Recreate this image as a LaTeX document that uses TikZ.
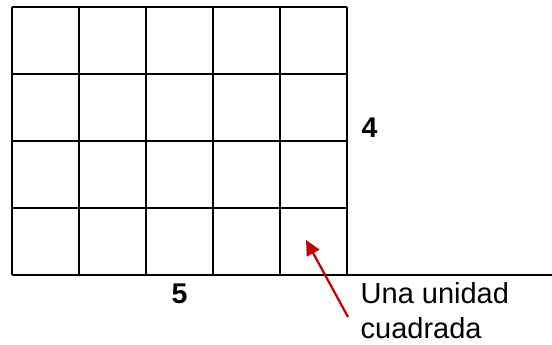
\documentclass[tikz,border=0pt]{standalone}
\usepackage{fontspec}
\setmainfont{Liberation Sans}
\usetikzlibrary{arrows.meta}
\definecolor{arrowred}{HTML}{C00000}
\begin{document}
\begin{tikzpicture}[x=1pt,y=-1pt,
  gridline/.style={line width=2pt,black},
  numlabel/.style={font=\fontsize{28.5}{34}\selectfont\bfseries,inner sep=0pt,anchor=base},
  txtlabel/.style={font=\fontsize{29}{35}\selectfont,inner sep=0pt,align=left,anchor=base west},
  redarrow/.style={line width=2.2pt,arrowred,-{Triangle[length=15pt,width=14pt]}}]
\useasboundingbox (0,0) rectangle (552,345);
% grid
\foreach \i in {0,...,5} \draw[gridline] (12+67*\i,7) -- (12+67*\i,275);
\foreach \j in {0,...,3} \draw[gridline] (12,7+67*\j) -- (347,7+67*\j);
\draw[gridline] (12,275) -- (552,275);
% labels
\node[numlabel] (four) at (369.5,137) {4};
\node[numlabel] (five) at (179.5,303) {5};
\node[txtlabel] (unit) at (360.5,338) {Una unidad\\cuadrada};
% arrow
\coordinate (tail) at (348,317);
\coordinate (tip) at (306,240);
\draw[redarrow] (tail) -- (tip);
\end{tikzpicture}
\end{document}
